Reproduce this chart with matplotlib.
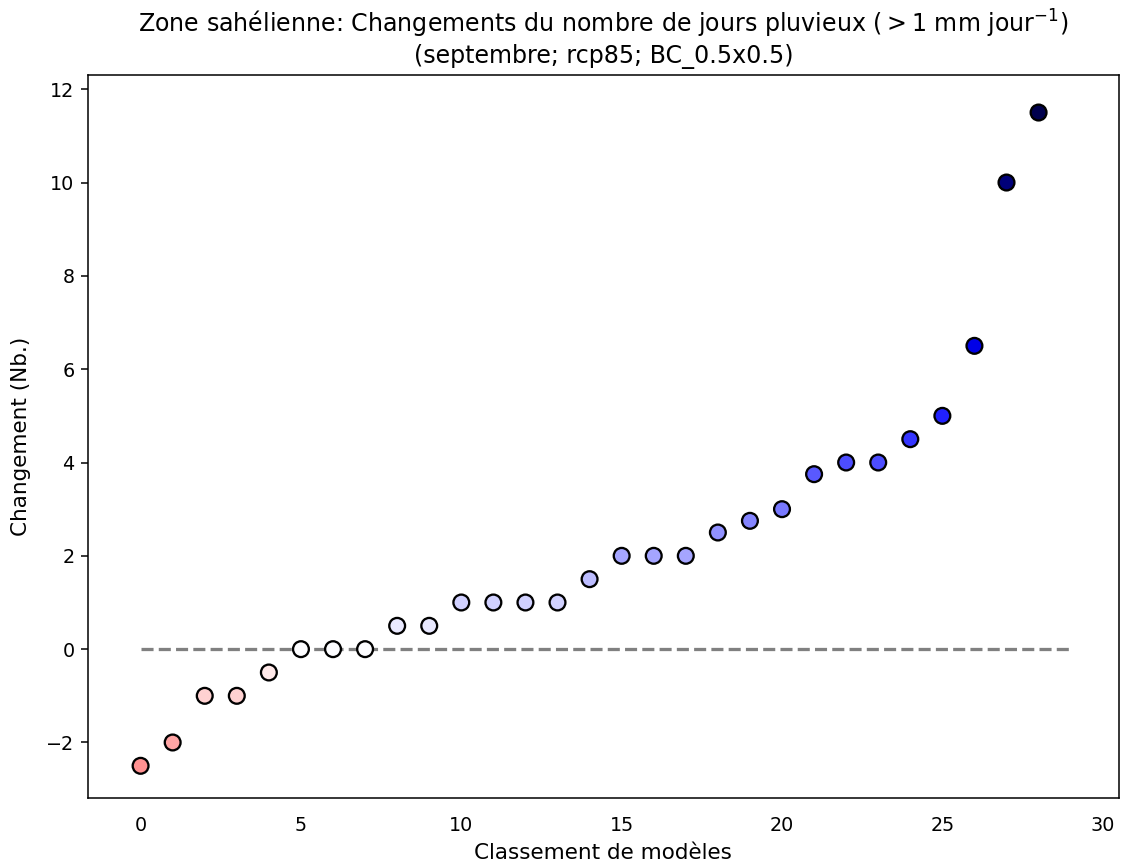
import numpy as np
import matplotlib
matplotlib.use('Agg')
import matplotlib.pyplot as plt
from matplotlib.colors import Normalize

# changes in number of rainy days, sorted by model rank
rang = np.arange(29)
changement = [-2.5, -2, -1, -1, -0.5, 0, 0, 0, 0.5, 0.5,
              1, 1, 1, 1, 1.5, 2, 2, 2, 2.5, 2.75,
              3, 3.75, 4, 4, 4.5, 5, 6.5, 10, 11.5]

titre = ("Zone sahélienne: Changements du nombre de jours pluvieux "
         "($>1$ mm jour$^{-1}$)\n(septembre; rcp85; BC_0.5x0.5)")

dpi = 138
fig = plt.figure(figsize=(1121 / dpi, 863 / dpi), dpi=dpi)
ax = fig.add_axes([0.0785, 0.0753, 0.998 - 0.0785, 0.9134 - 0.0753])

vmax = np.max(np.abs(changement))
norm = Normalize(vmin=-vmax, vmax=vmax)
ax.hlines(0, 0, len(rang), colors='gray', linestyles='--', lw=1.7, zorder=1)
ax.scatter(rang, changement, c=changement, cmap='seismic_r', norm=norm,
           s=68, edgecolors='k', linewidths=1.2, zorder=2)

ax.set_xlim(-1.64, 30.5)
ax.set_ylim(-3.19, 12.31)
ax.set_xticks([0, 5, 10, 15, 20, 25, 30])
ax.tick_params(axis='x', color='none', pad=6.0)
ax.set_xlabel("Classement de modèles", fontsize=11.2)
ax.set_ylabel("Changement (Nb.)", fontsize=11.2, labelpad=8)
ax.set_title(titre, fontsize=12.4)

fig.savefig('out.png', dpi=dpi)
